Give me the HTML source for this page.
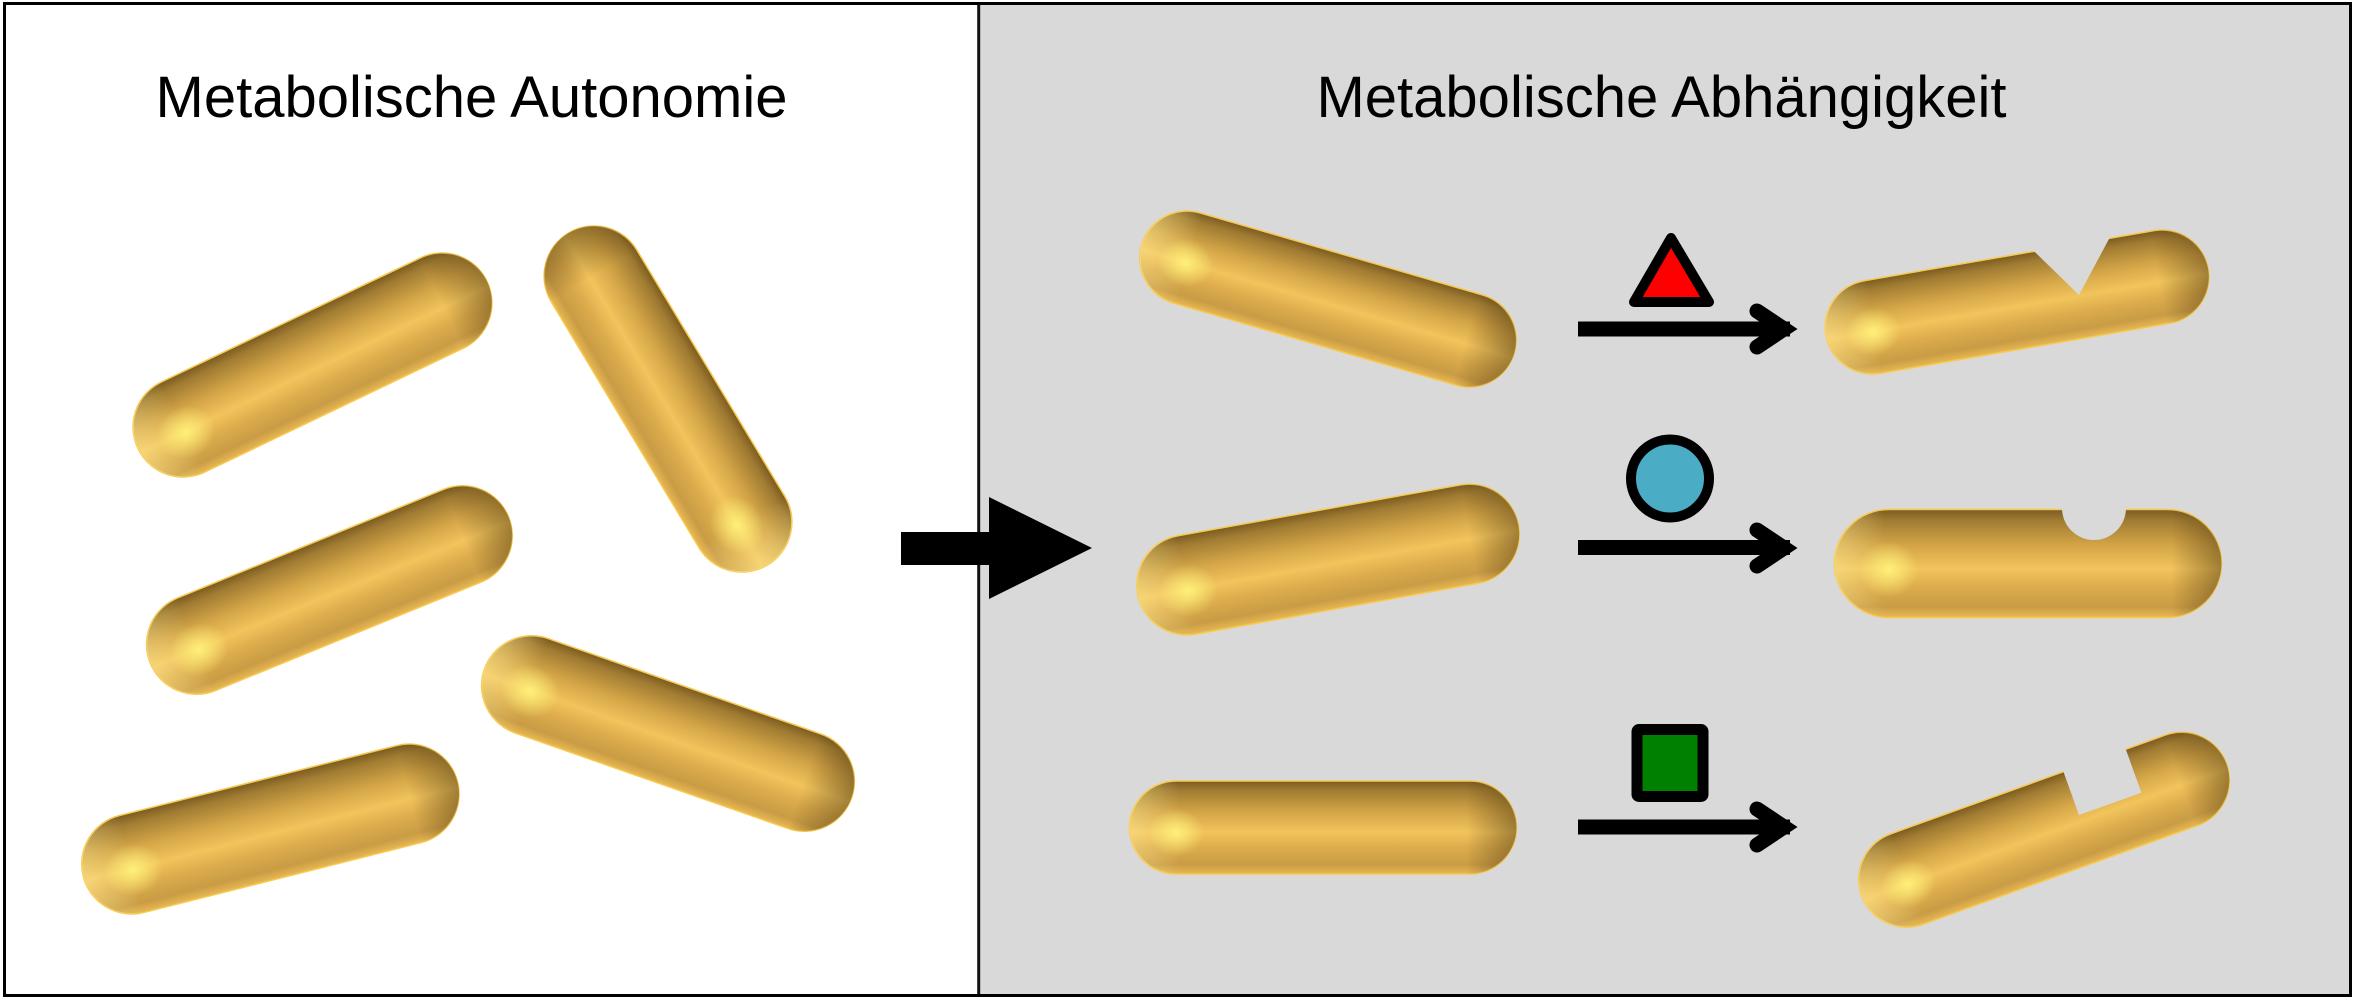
<!DOCTYPE html>
<html>
<head>
<meta charset="utf-8">
<style>
  html,body{margin:0;padding:0;background:#ffffff;}
  svg{display:block;}
  text{font-family:"Liberation Sans", Arial, sans-serif;}
</style>
</head>
<body>
<svg width="2354" height="1000" viewBox="0 0 2354 1000" xmlns="http://www.w3.org/2000/svg">
  <defs>
    <linearGradient id="body" x1="0" y1="0" x2="0" y2="1">
      <stop offset="0" stop-color="#7a5b20"/>
      <stop offset="0.10" stop-color="#a07b32"/>
      <stop offset="0.32" stop-color="#d1a346"/>
      <stop offset="0.55" stop-color="#f2c45c"/>
      <stop offset="0.72" stop-color="#dcac4c"/>
      <stop offset="0.90" stop-color="#c99c45"/>
      <stop offset="1" stop-color="#e9b852"/>
    </linearGradient>
    <linearGradient id="ends" x1="0" y1="0" x2="1" y2="0">
      <stop offset="0" stop-color="#fff0a0" stop-opacity="0.40"/>
      <stop offset="0.13" stop-color="#fff0a0" stop-opacity="0"/>
      <stop offset="0.87" stop-color="#2a1a00" stop-opacity="0"/>
      <stop offset="1" stop-color="#2a1a00" stop-opacity="0.40"/>
    </linearGradient>
    <linearGradient id="endsR" x1="1" y1="0" x2="0" y2="0">
      <stop offset="0" stop-color="#fff0a0" stop-opacity="0.40"/>
      <stop offset="0.13" stop-color="#fff0a0" stop-opacity="0"/>
      <stop offset="0.87" stop-color="#2a1a00" stop-opacity="0"/>
      <stop offset="1" stop-color="#2a1a00" stop-opacity="0.40"/>
    </linearGradient>
    <radialGradient id="hl" cx="0.5" cy="0.5" r="0.5">
      <stop offset="0" stop-color="#fff27a" stop-opacity="0.95"/>
      <stop offset="1" stop-color="#fff27a" stop-opacity="0"/>
    </radialGradient>
  </defs>

  <!-- panels -->
  <rect x="0" y="0" width="2354" height="1000" fill="#ffffff"/>
  <rect x="979" y="3" width="1372" height="993" fill="#d9d9d9"/>
  <line x1="978.7" y1="3" x2="978.7" y2="996" stroke="#111" stroke-width="3"/>
  <rect x="4.5" y="3.5" width="2346" height="992" fill="none" stroke="#000" stroke-width="3"/>

  <!-- titles -->
  <text x="471.5" y="117" font-size="58" text-anchor="middle" fill="#000">Metabolische Autonomie</text>
  <text x="1661.5" y="117" font-size="58" text-anchor="middle" fill="#000">Metabolische Abhängigkeit</text>

  <!-- big arrow -->
  <polygon points="901,532 989,532 989,497 1092,548 989,599 989,565 901,565" fill="#000"/>

  <!-- LEFT PANEL RODS -->
  <g transform="translate(312.5,365) rotate(-25.6)">
    <rect x="-193.5" y="-50" width="387" height="100" rx="50" fill="url(#body)" stroke="#f7c94f" stroke-width="1.5"/>
    <rect x="-193.5" y="-50" width="387" height="100" rx="50" fill="url(#ends)"/>
    <ellipse cx="-143.5" cy="6" rx="30" ry="26" fill="url(#hl)"/>
  </g>
  <g transform="translate(668,399) rotate(59)">
    <rect x="-193.5" y="-50" width="387" height="100" rx="50" fill="url(#body)" stroke="#f7c94f" stroke-width="1.5"/>
    <rect x="-193.5" y="-50" width="387" height="100" rx="50" fill="url(#endsR)"/>
    <ellipse cx="143.5" cy="6" rx="30" ry="26" fill="url(#hl)"/>
  </g>
  <g transform="translate(329.4,590) rotate(-22.2)">
    <rect x="-193.5" y="-50" width="387" height="100" rx="50" fill="url(#body)" stroke="#f7c94f" stroke-width="1.5"/>
    <rect x="-193.5" y="-50" width="387" height="100" rx="50" fill="url(#ends)"/>
    <ellipse cx="-143.5" cy="6" rx="30" ry="26" fill="url(#hl)"/>
  </g>
  <g transform="translate(668,733.5) rotate(19.3)">
    <rect x="-194.5" y="-50" width="389" height="100" rx="50" fill="url(#body)" stroke="#f7c94f" stroke-width="1.5"/>
    <rect x="-194.5" y="-50" width="389" height="100" rx="50" fill="url(#ends)"/>
    <ellipse cx="-144.5" cy="6" rx="30" ry="26" fill="url(#hl)"/>
  </g>
  <g transform="translate(270.4,829) rotate(-14.15)">
    <rect x="-193" y="-50" width="386" height="100" rx="50" fill="url(#body)" stroke="#f7c94f" stroke-width="1.5"/>
    <rect x="-193" y="-50" width="386" height="100" rx="50" fill="url(#ends)"/>
    <ellipse cx="-143" cy="6" rx="30" ry="26" fill="url(#hl)"/>
  </g>

  <!-- RIGHT PANEL RODS -->
  <g transform="translate(1328,299) rotate(16.2)">
    <rect x="-194" y="-47" width="388" height="94" rx="47" fill="url(#body)" stroke="#f7c94f" stroke-width="1.5"/>
    <rect x="-194" y="-47" width="388" height="94" rx="47" fill="url(#ends)"/>
    <ellipse cx="-147" cy="5" rx="28" ry="24" fill="url(#hl)"/>
  </g>
  <g transform="translate(2017,302) rotate(-9.8)">
    <rect x="-194" y="-47" width="388" height="94" rx="47" fill="url(#body)" stroke="#f7c94f" stroke-width="1.5"/>
    <rect x="-194" y="-47" width="388" height="94" rx="47" fill="url(#ends)"/>
    <ellipse cx="-147" cy="5" rx="28" ry="24" fill="url(#hl)"/>
  </g>
  <g transform="translate(1328,559.5) rotate(-10.2)">
    <rect x="-193.5" y="-50" width="387" height="100" rx="50" fill="url(#body)" stroke="#f7c94f" stroke-width="1.5"/>
    <rect x="-193.5" y="-50" width="387" height="100" rx="50" fill="url(#ends)"/>
    <ellipse cx="-143.5" cy="6" rx="30" ry="26" fill="url(#hl)"/>
  </g>
  <g transform="translate(2028,563.5)">
    <rect x="-193.5" y="-54" width="387" height="108" rx="54" fill="url(#body)" stroke="#f7c94f" stroke-width="1.5"/>
    <rect x="-193.5" y="-54" width="387" height="108" rx="54" fill="url(#ends)"/>
    <ellipse cx="-139.5" cy="6" rx="30" ry="28" fill="url(#hl)"/>
  </g>
  <g transform="translate(1323,827.5)">
    <rect x="-193.5" y="-46.5" width="387" height="93" rx="46.5" fill="url(#body)" stroke="#f7c94f" stroke-width="1.5"/>
    <rect x="-193.5" y="-46.5" width="387" height="93" rx="46.5" fill="url(#ends)"/>
    <ellipse cx="-147" cy="5" rx="28" ry="24" fill="url(#hl)"/>
  </g>
  <g transform="translate(2044,829.7) rotate(-19.8)">
    <rect x="-194" y="-48" width="388" height="96" rx="48" fill="url(#body)" stroke="#f7c94f" stroke-width="1.5"/>
    <rect x="-194" y="-48" width="388" height="96" rx="48" fill="url(#ends)"/>
    <ellipse cx="-146" cy="5" rx="28" ry="24" fill="url(#hl)"/>
  </g>

  <!-- notches (background colour) -->
  <polygon points="2079,295 2021.5,239 2115.4,227" fill="#d9d9d9"/>
  <circle cx="2094" cy="508" r="32" fill="#d9d9d9"/>
  <rect x="2040" y="470" width="110" height="38" fill="#d9d9d9"/>
  <polygon points="2079,815 2141.4,792.7 2117.7,726.8 2055.3,749.1" fill="#d9d9d9"/>

  <!-- small arrows -->
  <g fill="#000" stroke="none">
    <rect x="1578" y="321.5" width="212" height="15"/>
    <rect x="1578" y="540" width="212" height="15"/>
    <rect x="1578" y="819.5" width="212" height="15"/>
  </g>
  <g fill="none" stroke="#000" stroke-width="15" stroke-linecap="round" stroke-linejoin="miter" stroke-miterlimit="10">
    <polyline points="1757,311 1784,329 1757,347"/>
    <polyline points="1757,530 1784,548 1757,566"/>
    <polyline points="1757,809 1784,827 1757,845"/>
  </g>

  <!-- molecules -->
  <path d="M1671,238 L1709,302 L1634,302 Z" fill="#ff0000" stroke="#000" stroke-width="10" stroke-linejoin="round"/>
  <circle cx="1670" cy="478.5" r="39" fill="#4bacc6" stroke="#000" stroke-width="10"/>
  <rect x="1637" y="729.5" width="66" height="67" rx="2" fill="#008000" stroke="#000" stroke-width="11" stroke-linejoin="round"/>
</svg>
</body>
</html>
